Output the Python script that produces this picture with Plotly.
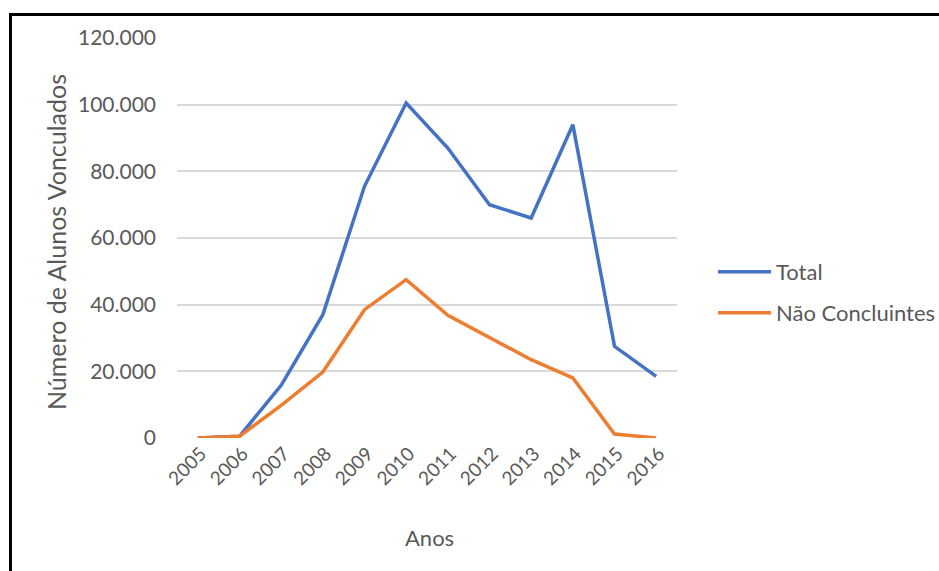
import plotly.graph_objects as go

# Enrolment data by year
anos = ["2005", "2006", "2007", "2008", "2009", "2010",
        "2011", "2012", "2013", "2014", "2015", "2016"]
total = [0, 500, 15800, 37000, 75500, 100500,
         87000, 70000, 66000, 94000, 27500, 18500]
nao_concluintes = [0, 500, 9800, 19800, 38500, 47500,
                   36800, 30200, 23500, 18000, 1200, 0]

W, H = 939, 571
L, R, T, B = 177, 677, 38, 438   # plot area in pixels


def px_x(x):
    return (x - L) / (R - L)


def px_y(y):
    return (B - y) / (B - T)


FONT = "Lato"
GREY = "#595959"

fig = go.Figure()
fig.add_trace(go.Scatter(
    x=anos, y=total, name="Total", mode="lines",
    line=dict(color="#4472C4", width=3.5), legend="legend"))
fig.add_trace(go.Scatter(
    x=anos, y=nao_concluintes, name="Não Concluintes", mode="lines",
    line=dict(color="#ED7D31", width=3.5), legend="legend2"))

legend_common = dict(
    xanchor="left", yanchor="middle", bgcolor="rgba(0,0,0,0)",
    font=dict(family=FONT, size=22, color=GREY), itemwidth=53,
)

fig.update_layout(
    width=W, height=H,
    margin=dict(l=L, r=W - R, t=T, b=H - B, autoexpand=False),
    paper_bgcolor="white", plot_bgcolor="white",
    separators=",.",
    font=dict(family=FONT, color=GREY),
    showlegend=True,
    legend=dict(x=px_x(713), y=px_y(272), **legend_common),
    legend2=dict(x=px_x(713), y=px_y(313), **legend_common),
    xaxis=dict(
        type="category", range=[-0.5, len(anos) - 0.5], automargin=False,
        showgrid=False, showline=False, zeroline=False,
        tickangle=-45, tickfont=dict(family=FONT, size=19, color=GREY),
        ticks="", ticklabelstandoff=0, ticklabelshift=3,
    ),
    yaxis=dict(
        range=[0, 120000], tick0=0, dtick=20000, tickformat=",d",
        automargin=False,
        showgrid=True, gridcolor="#d9d9d9", gridwidth=1.5,
        zeroline=False, showline=False, ticks="",
        ticklabelstandoff=20,
        tickfont=dict(family=FONT, size=21, color=GREY),
    ),
    annotations=[
        dict(text="Número de Alunos Vonculados", textangle=-90,
             xref="paper", yref="paper", x=px_x(56), y=px_y(242),
             xanchor="center", yanchor="middle", showarrow=False,
             font=dict(family=FONT, size=25, color=GREY)),
        dict(text="Anos", xref="paper", yref="paper",
             x=px_x(429), y=px_y(537), xanchor="center", yanchor="middle",
             showarrow=False, font=dict(family=FONT, size=22, color=GREY)),
    ],
    shapes=[
        dict(type="rect", xref="paper", yref="paper",
             x0=px_x(10.5), x1=px_x(990), y0=px_y(620), y1=px_y(14.5),
             line=dict(color="black", width=3), fillcolor="rgba(0,0,0,0)",
             layer="above"),
    ],
)

fig.write_html("out.html")
